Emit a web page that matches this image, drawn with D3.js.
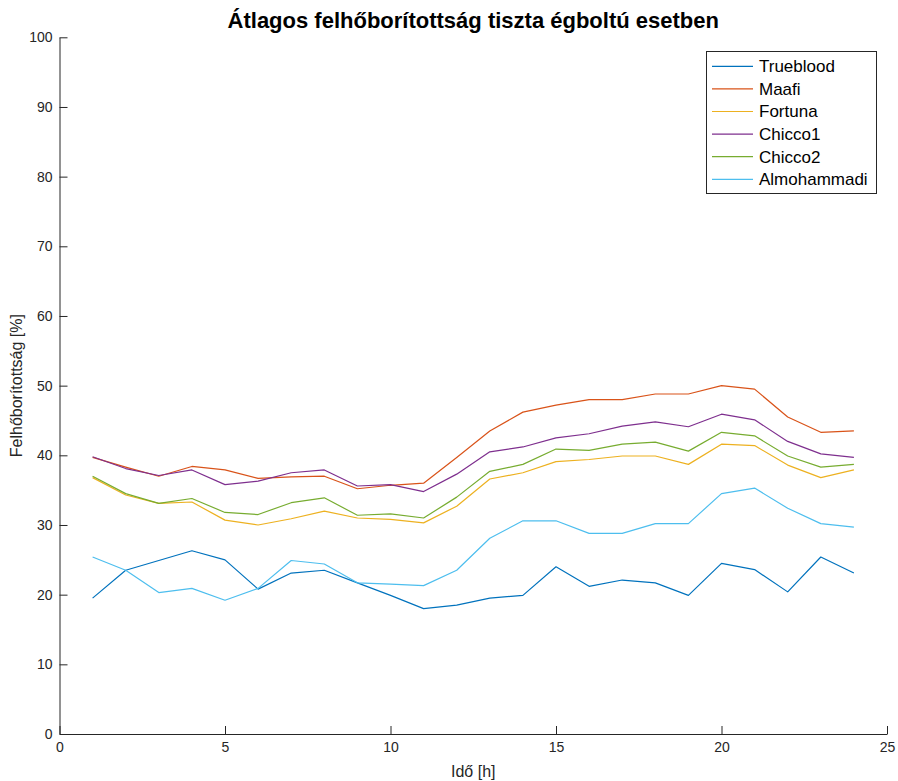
<!DOCTYPE html>
<html>
<head>
<meta charset="utf-8">
<script src="https://cdn.jsdelivr.net/npm/d3@7"></script>
<style>
  html, body { margin: 0; padding: 0; background: #fff; }
  svg { display: block; font-family: "Liberation Sans", Arial, sans-serif; }
</style>
</head>
<body>
<svg id="chart" width="898" height="781"></svg>
<script>
// Hours of the day
const hours = [1,2,3,4,5,6,7,8,9,10,11,12,13,14,15,16,17,18,19,20,21,22,23,24];

// Average cloud cover per model [%]
const trueblood   = [19.5,23.5,24.9,26.3,25.0,20.8,23.1,23.5,21.7,19.9,18.0,18.5,19.5,19.9,24.0,21.2,22.1,21.7,19.9,24.5,23.6,20.4,25.4,23.1];
const maafi       = [39.7,38.3,37.0,38.4,37.9,36.7,36.9,37.0,35.2,35.7,36.0,39.7,43.5,46.2,47.2,48.0,48.0,48.8,48.8,50.0,49.5,45.5,43.3,43.5];
const fortuna     = [36.8,34.3,33.1,33.3,30.7,30.0,30.9,32.0,31.0,30.8,30.3,32.7,36.6,37.5,39.1,39.4,39.9,39.9,38.7,41.6,41.4,38.6,36.8,37.9];
const chicco1     = [39.8,38.1,37.1,37.9,35.8,36.3,37.5,37.9,35.6,35.8,34.8,37.3,40.5,41.2,42.5,43.1,44.2,44.8,44.1,45.9,45.1,42.0,40.2,39.7];
const chicco2     = [37.0,34.5,33.1,33.8,31.8,31.5,33.2,33.9,31.4,31.6,31.0,34.0,37.7,38.7,40.9,40.7,41.6,41.9,40.6,43.3,42.8,39.9,38.3,38.7];
const almohammadi = [25.4,23.5,20.3,20.9,19.2,20.9,24.9,24.4,21.7,21.5,21.3,23.5,28.1,30.6,30.6,28.8,28.8,30.2,30.2,34.5,35.3,32.4,30.2,29.7];

const seriesNames  = ["Trueblood","Maafi","Fortuna","Chicco1","Chicco2","Almohammadi"];
const seriesValues = [trueblood, maafi, fortuna, chicco1, chicco2, almohammadi];
const seriesColors = ["#0072BD","#D95319","#EDB120","#7E2F8E","#77AC30","#4DBEEE"];

const xTicks = [0,5,10,15,20,25];
const yTicks = [0,10,20,30,40,50,60,70,80,90,100];

const titleText = "Átlagos felhőborítottság tiszta égboltú esetben";
const xLabel = "Idő [h]";
const yLabel = "Felhőborítottság [%]";

const svg = d3.select("#chart");
const plotLeft = 59.5, plotRight = 887, plotTop = 37.3, plotBottom = 734;
const axisColor = "#262626";
const tickLen = 8;

const x = d3.scaleLinear().domain([0, 25]).range([plotLeft, plotRight]);
const y = d3.scaleLinear().domain([0, 100]).range([plotBottom, plotTop]);

// Series lines
const line = d3.line().x((d, i) => x(hours[i])).y(d => y(d));
const plot = svg.append("g");
seriesValues.forEach((vals, k) => {
  plot.append("path")
    .datum(vals)
    .attr("d", line)
    .attr("fill", "none")
    .attr("stroke", seriesColors[k])
    .attr("stroke-width", 1.2)
    .attr("stroke-linejoin", "round");
});

// X axis (ticks pointing into the plot)
const xAxis = d3.axisBottom(x).tickValues(xTicks).tickSizeInner(-tickLen).tickSizeOuter(0).tickPadding(8).tickFormat(d3.format("d"));
const gx = svg.append("g").attr("transform", `translate(0,${plotBottom})`).call(xAxis);
gx.select(".domain").attr("stroke", axisColor).attr("stroke-width", 1);
gx.selectAll(".tick line").attr("stroke", axisColor);
gx.selectAll(".tick text").attr("fill", axisColor).style("font-size", "14px").style("font-family", "'Liberation Sans', Arial, sans-serif");

// Y axis
const yAxis = d3.axisLeft(y).tickValues(yTicks).tickSizeInner(-tickLen).tickSizeOuter(0).tickPadding(7).tickFormat(d3.format("d"));
const gy = svg.append("g").attr("transform", `translate(${plotLeft},0)`).call(yAxis);
gy.select(".domain").attr("stroke", axisColor).attr("stroke-width", 1);
gy.selectAll(".tick line").attr("stroke", axisColor);
gy.selectAll(".tick text").attr("fill", axisColor).style("font-size", "14px").style("font-family", "'Liberation Sans', Arial, sans-serif");

// Title
svg.append("text")
  .attr("x", (plotLeft + plotRight) / 2)
  .attr("y", 28)
  .attr("text-anchor", "middle")
  .attr("font-weight", "bold")
  .attr("font-size", 22)
  .attr("fill", "#000")
  .text(titleText);

// Axis labels
svg.append("text")
  .attr("x", (plotLeft + plotRight) / 2)
  .attr("y", 777)
  .attr("text-anchor", "middle")
  .attr("font-size", 16)
  .attr("fill", axisColor)
  .text(xLabel);

svg.append("text")
  .attr("transform", `translate(22,${(plotTop + plotBottom) / 2}) rotate(-90)`)
  .attr("text-anchor", "middle")
  .attr("font-size", 16)
  .attr("fill", axisColor)
  .text(yLabel);

// Legend
const lg = svg.append("g");
lg.append("rect")
  .attr("x", 706.5).attr("y", 51.5)
  .attr("width", 170).attr("height", 142)
  .attr("fill", "#fff")
  .attr("stroke", axisColor)
  .attr("stroke-width", 1);
seriesNames.forEach((name, k) => {
  const cy = 66.3 + k * 22.6;
  lg.append("line")
    .attr("x1", 712).attr("x2", 753)
    .attr("y1", cy).attr("y2", cy)
    .attr("stroke", seriesColors[k])
    .attr("stroke-width", 1.2);
  lg.append("text")
    .attr("x", 759).attr("y", cy)
    .attr("dy", "0.35em")
    .attr("font-size", 17)
    .attr("fill", "#000")
    .text(name);
});
</script>
</body>
</html>
